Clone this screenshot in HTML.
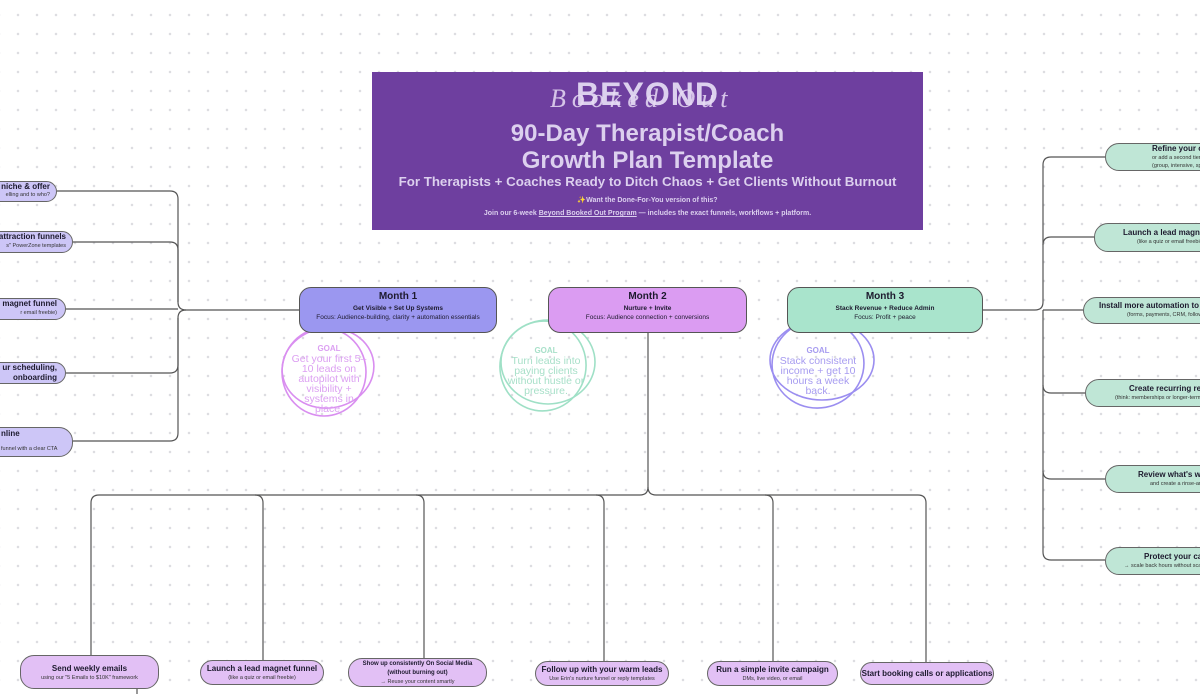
<!DOCTYPE html>
<html><head><meta charset="utf-8"><style>
*{box-sizing:border-box;margin:0;padding:0}
body{width:1200px;height:694px;overflow:hidden;position:relative;font-family:"Liberation Sans",sans-serif;color:#1d1a2e;
background:#fff radial-gradient(circle,#dcdce0 1px,transparent 1.5px);background-size:19px 19px;background-position:8.5px 5.5px}
.b{position:absolute;border:1px solid #666;border-radius:14px;text-align:center;overflow:hidden;white-space:nowrap}
.t{font-weight:bold;font-size:8px;line-height:11px}
.s{font-size:5.5px;line-height:9px;color:#333}
.l{background:#cdc6f7}.g{background:#bfe6d6}.p{background:#e2c0f5}
.m{position:absolute;border:1px solid #555;border-radius:12px;text-align:center}
.m h3{font-size:10px;margin-top:3px}
.m .a{font-size:6.5px;font-weight:bold;margin-top:3px}
.m .f{font-size:6.5px;margin-top:2px}
.goal{position:absolute;text-align:center;font-family:"Liberation Sans Narrow","Liberation Sans",sans-serif;font-size:10.5px;line-height:10px}
</style></head><body>
<svg width="1200" height="694" style="position:absolute;left:0;top:0" fill="none" stroke="#555" stroke-width="1.2">
<path d="M57 191 H170 Q178 191 178 199 V302 Q178 310 186 310 H299"/>
<path d="M73 242 H170 Q178 242 178 250 V302"/>
<path d="M66 309 H178"/>
<path d="M66 373 H170 Q178 373 178 365 V318 Q178 310 186 310"/>
<path d="M73 441 H170 Q178 441 178 433 V318"/>
<path d="M983 310 H1035 Q1043 310 1043 302 V165 Q1043 157 1051 157 H1105"/>
<path d="M1043 245 Q1043 237 1051 237 H1094"/>
<path d="M1043 310 H1083"/>
<path d="M1043 310 V552 Q1043 560 1051 560 H1105"/>
<path d="M1043 385 Q1043 393 1051 393 H1085"/>
<path d="M1043 471 Q1043 479 1051 479 H1105"/>
<path d="M648 333 V487 Q648 495 640 495 H99 Q91 495 91 503 V656"/>
<path d="M648 487 Q648 495 656 495 H918 Q926 495 926 503 V662"/>
<path d="M263 503 V660"/>
<path d="M424 503 V658 M604 503 V662 M773 503 V662 M137 686 V694"/>
<path d="M255 495 Q263 495 263 503 M416 495 Q424 495 424 503 M596 495 Q604 495 604 503 M765 495 Q773 495 773 503"/>
<g stroke-width="1.6">
<ellipse cx="328" cy="368" rx="46" ry="40" stroke="#d98ef0" transform="rotate(-8 328 368)"/>
<ellipse cx="324" cy="372" rx="42" ry="44" stroke="#d98ef0"/>
<ellipse cx="548" cy="362" rx="47" ry="42" stroke="#9fe0c6"/>
<ellipse cx="543" cy="366" rx="43" ry="45" stroke="#9fe0c6" transform="rotate(10 543 366)"/>
<ellipse cx="822" cy="360" rx="52" ry="40" stroke="#9b8ef0"/>
<ellipse cx="818" cy="364" rx="46" ry="44" stroke="#9b8ef0" transform="rotate(-10 818 364)"/>
</g>
</svg>

<div style="position:absolute;left:372px;top:72px;width:551px;height:158px;background:#6e3f9f;color:#dcd0ee;text-align:center">
<div style="font-size:32px;font-weight:bold;margin-top:5px;letter-spacing:1px;line-height:34px">BEYOND</div>
<div style="position:absolute;left:178px;top:12px;font-family:'Liberation Serif',serif;font-style:italic;font-size:26px;letter-spacing:6px;color:#e8dcf5;opacity:.85">Booked Out</div>
<div style="font-size:24px;font-weight:bold;line-height:27px;margin-top:9px">90-Day Therapist/Coach<br>Growth Plan Template</div>
<div style="font-size:13.3px;font-weight:bold;margin-top:0px">For Therapists + Coaches Ready to Ditch Chaos + Get Clients Without Burnout</div>
<div style="font-size:7px;margin-top:5px;line-height:13px;font-weight:bold">✨Want the Done-For-You version of this?<br>Join our 6-week <u>Beyond Booked Out Program</u> — includes the exact funnels, workflows + platform.</div>
</div>

<div class="b l" style="left:-20px;top:181px;width:77px;height:21px;text-align:right;padding-right:6px"><div class="t" style="line-height:10px">niche &amp; offer</div><div class="s" style="line-height:7px">elling and to who?</div></div>
<div class="b l" style="left:-20px;top:231px;width:93px;height:22px;text-align:right;padding-right:6px"><div class="t" style="line-height:10px">t attraction funnels</div><div class="s" style="line-height:8px">s" PowerZone templates</div></div>
<div class="b l" style="left:-20px;top:298px;width:86px;height:22px;text-align:right;padding-right:8px"><div class="t" style="line-height:10px">d magnet funnel</div><div class="s" style="line-height:8px">r email freebie)</div></div>
<div class="b l" style="left:-20px;top:362px;width:86px;height:22px;text-align:right;padding-right:8px"><div class="t" style="line-height:10px">ur scheduling,<br>onboarding</div></div>
<div class="b l" style="left:-20px;top:427px;width:93px;height:30px;text-align:left;padding-left:20px"><div class="t" style="line-height:12px">nline</div><div class="s" style="margin-top:5px;line-height:8px">funnel with a clear CTA</div></div>

<div class="m" style="left:299px;top:287px;width:198px;height:46px;background:#9b97f0"><h3>Month 1</h3><div class="a">Get Visible + Set Up Systems</div><div class="f">Focus: Audience-building, clarity + automation essentials</div></div>
<div class="m" style="left:548px;top:287px;width:199px;height:46px;background:#db9cf2"><h3>Month 2</h3><div class="a">Nurture + Invite</div><div class="f">Focus: Audience connection + conversions</div></div>
<div class="m" style="left:787px;top:287px;width:196px;height:46px;background:#a9e4cc"><h3>Month 3</h3><div class="a">Stack Revenue + Reduce Admin</div><div class="f">Focus: Profit + peace</div></div>

<div class="goal" style="left:290px;top:343px;width:78px;color:#dca0f2"><b style="font-size:8px">GOAL</b><br>Get your first 5–10 leads on autopilot with visibility + systems in place.</div>
<div class="goal" style="left:506px;top:345px;width:80px;color:#a8e0c9"><b style="font-size:8px">GOAL</b><br>Turn leads into paying clients without hustle or pressure.</div>
<div class="goal" style="left:778px;top:345px;width:80px;color:#a79cf0"><b style="font-size:8px">GOAL</b><br>Stack consistent income + get 10 hours a week back.</div>

<div class="b g" style="left:1105px;top:143px;width:120px;height:28px;text-align:left;padding-left:46px"><div class="t" style="line-height:10px">Refine your offer</div><div class="s" style="line-height:8px">or add a second tier<br>(group, intensive, specialty)</div></div>
<div class="b g" style="left:1094px;top:223px;width:130px;height:29px;text-align:left;padding-left:28px;padding-top:4px"><div class="t" style="line-height:10px">Launch a lead magnet funnel</div><div class="s" style="line-height:8px;padding-left:14px">(like a quiz or email freebie)</div></div>
<div class="b g" style="left:1083px;top:297px;width:140px;height:27px;text-align:left;padding-left:15px;padding-top:3px"><div class="t" style="line-height:10px">Install more automation to reduce admin</div><div class="s" style="line-height:8px;padding-left:28px">(forms, payments, CRM, follow-ups)</div></div>
<div class="b g" style="left:1085px;top:379px;width:140px;height:28px;text-align:left;padding-left:43px;padding-top:4px"><div class="t" style="line-height:10px">Create recurring revenue</div><div class="s" style="line-height:8px;margin-left:-14px">(think: memberships or longer-term</div></div>
<div class="b g" style="left:1105px;top:465px;width:120px;height:28px;text-align:left;padding-left:32px;padding-top:4px"><div class="t" style="line-height:10px">Review what's working</div><div class="s" style="line-height:8px;padding-left:12px">and create a rinse-and-repeat</div></div>
<div class="b g" style="left:1105px;top:547px;width:120px;height:28px;text-align:left;padding-left:38px;padding-top:4px"><div class="t" style="line-height:10px">Protect your calendar</div><div class="s" style="line-height:8px;margin-left:-20px">→ scale back hours without scaling back</div></div>

<div class="b p" style="left:20px;top:655px;width:139px;height:34px;padding-top:7px"><div class="t">Send weekly emails</div><div class="s">using our "5 Emails to $10K" framework</div></div>
<div class="b p" style="left:200px;top:660px;width:124px;height:25px;padding-top:2px"><div class="t">Launch a lead magnet funnel</div><div class="s">(like a quiz or email freebie)</div></div>
<div class="b p" style="left:348px;top:658px;width:139px;height:29px;padding-top:1px"><div class="t" style="font-size:6px;line-height:9px">Show up consistently On Social Media<br>(without burning out)</div><div class="s" style="line-height:8px">→ Reuse your content smartly</div></div>
<div class="b p" style="left:535px;top:661px;width:134px;height:25px;padding-top:2px"><div class="t">Follow up with your warm leads</div><div class="s">Use Erin's nurture funnel or reply templates</div></div>
<div class="b p" style="left:707px;top:661px;width:131px;height:25px;padding-top:2px"><div class="t">Run a simple invite campaign</div><div class="s">DMs, live video, or email</div></div>
<div class="b p" style="left:860px;top:662px;width:134px;height:23px;padding-top:5px"><div class="t">Start booking calls or applications</div></div>
</body></html>
